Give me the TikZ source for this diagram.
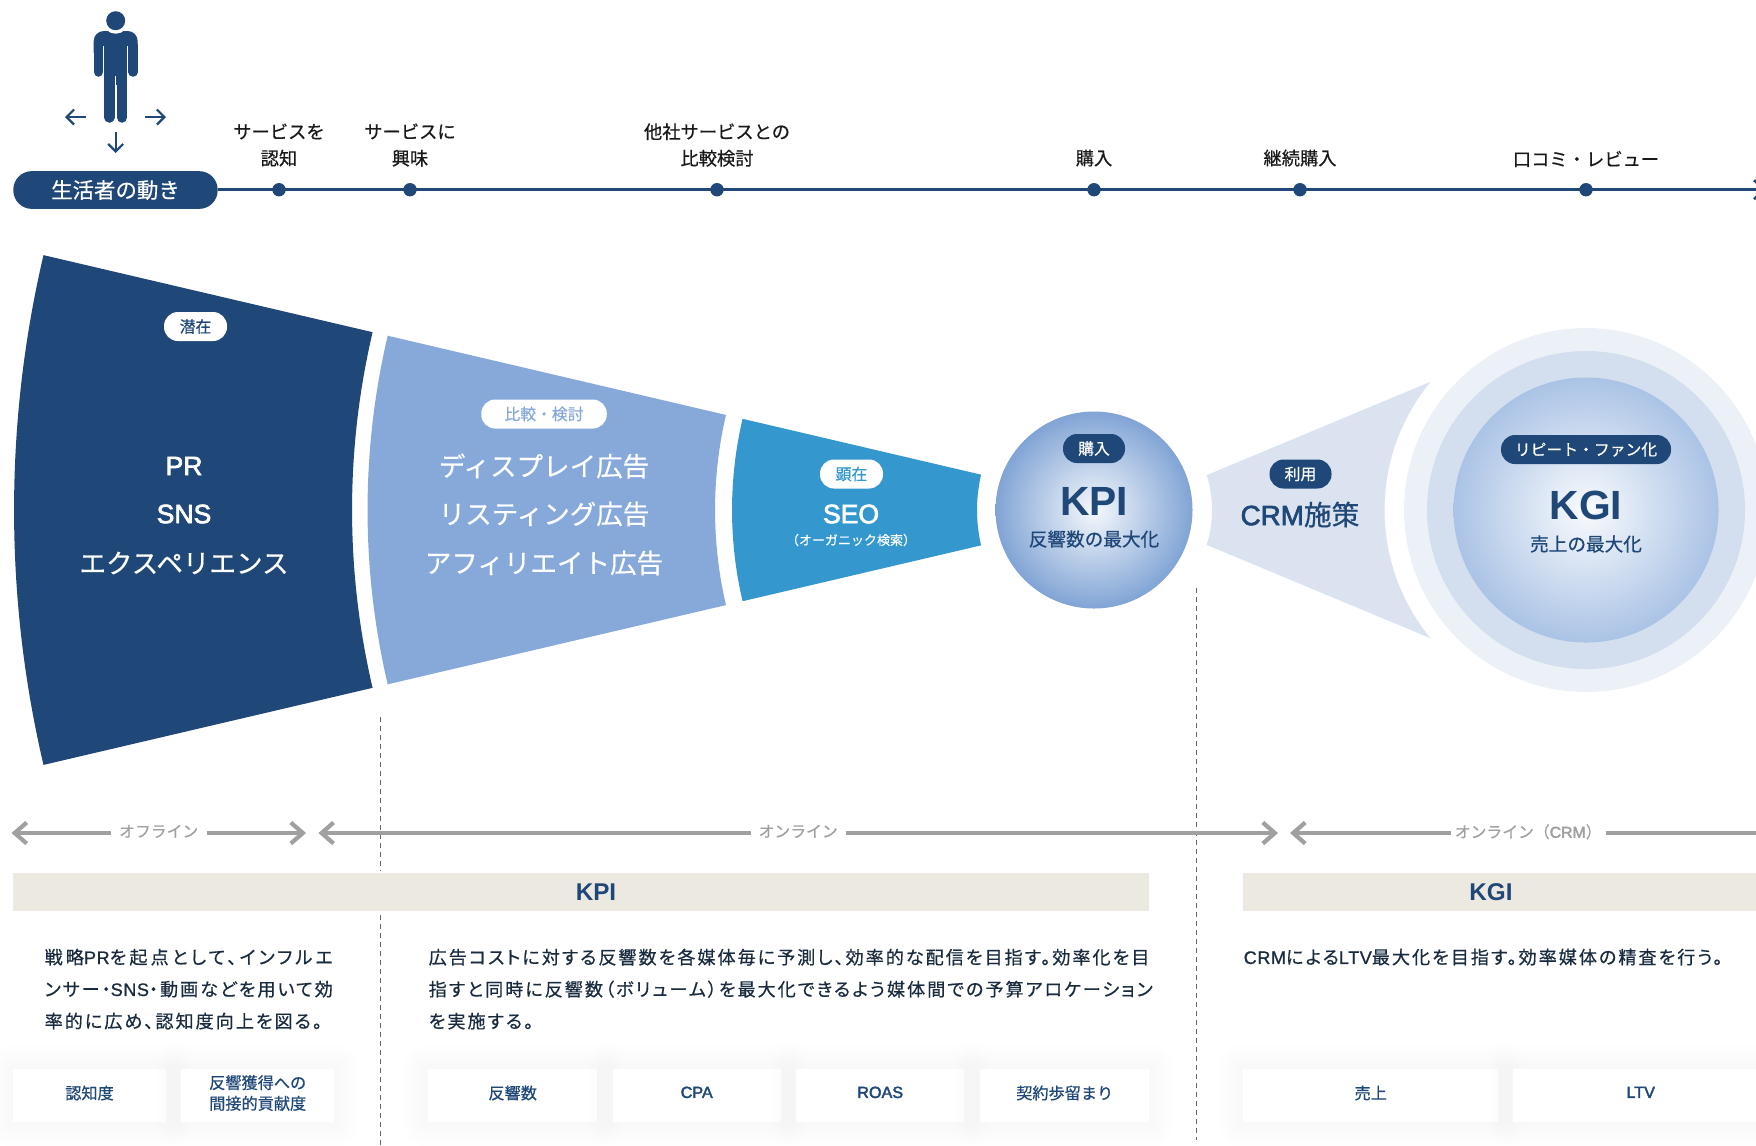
\documentclass[tikz,border=0pt]{standalone}
\usepackage{fontspec}
\setmainfont{Noto Sans CJK JP}
\newfontfamily\medfont[FakeBold=.5]{Noto Sans CJK JP}
\newfontfamily\bodyfont[RawFeature={+palt},FakeBold=.5,LetterSpace=11]{Noto Sans CJK JP}
\newfontfamily\bodywide[RawFeature={+palt},FakeBold=.5,LetterSpace=17]{Noto Sans CJK JP}
\newfontfamily\latinfont[FakeBold=2.5]{Liberation Sans}
\newfontfamily\headfont{Liberation Sans}
\newfontfamily\bodylatin[FakeBold=.8,LetterSpace=3]{Liberation Sans}
\usetikzlibrary{arrows.meta}
\usetikzlibrary{positioning}

\definecolor{navy}{HTML}{1F4778}
\definecolor{midblue}{HTML}{86A9DA}
\definecolor{seablue}{HTML}{3498CF}
\definecolor{fanblue}{HTML}{DCE3F0}
\definecolor{ringout}{HTML}{ECF1F8}
\definecolor{ringmid}{HTML}{D3DFEE}
\definecolor{beige}{HTML}{ECE9E1}
\definecolor{rangegray}{HTML}{A0A0A0}
\definecolor{bodyink}{HTML}{1A2B3F}

\tikzset{
  stepdot/.style={circle, fill=navy, minimum size=.134cm, inner sep=0pt},
  steplabel/.style={align=center, inner sep=0pt, text=black!90, font=\medfont\fontsize{5.2}{7.55}\selectfont},
  tagpill/.style={rounded corners=.14cm, minimum height=.29cm, inner sep=0pt, font=\medfont\fontsize{4.5}{5}\selectfont},
  bigwhite/.style={inner sep=0pt, text=white, font=\medfont\fontsize{7.55}{8}\selectfont},
  goaltext/.style={inner sep=0pt, text=navy, font=\medfont\fontsize{5.3}{6}\selectfont},
  goalhead/.style={inner sep=0pt, text=navy, font=\headfont\bfseries\fontsize{11.6}{14}\selectfont},
  rangeline/.style={rangegray, line width=.042cm, {Straight Barb[length=.12cm,width=.21cm]}-{Straight Barb[length=.12cm,width=.21cm]}},
  rangetext/.style={fill=white, inner sep=0pt, minimum height=.2cm, text depth=.04cm, text=rangegray, font=\medfont\fontsize{4.5}{5}\selectfont},
  walkarrow/.style={navy, line width=.022cm, -{Straight Barb[length=.075cm,width=.15cm]}},
  guide/.style={black!60, line width=.01cm, dash pattern=on .045cm off .045cm},
  barlabel/.style={inner sep=0pt, text=navy, font=\headfont\bfseries\fontsize{6.9}{8}\selectfont},
  bodytext/.style={anchor=north west, align=left, inner sep=0pt, text=bodyink, font=\bodyfont\fontsize{5.15}{9.1}\selectfont},
  softshadow/.style={
    preaction={draw=black, draw opacity=.004, line width=.50cm, line join=round},
    preaction={draw=black, draw opacity=.004, line width=.42cm, line join=round},
    preaction={draw=black, draw opacity=.004, line width=.34cm, line join=round},
    preaction={draw=black, draw opacity=.004, line width=.26cm, line join=round},
    preaction={draw=black, draw opacity=.004, line width=.18cm, line join=round},
    preaction={draw=black, draw opacity=.004, line width=.10cm, line join=round}},
  kpibox/.style={softshadow, fill=white, anchor=north west, minimum height=.537cm, text depth=.065cm, inner sep=0pt, align=center, text=navy, font=\medfont\fontsize{4.6}{5.9}\selectfont},
}

\begin{document}
\begin{tikzpicture}
  \useasboundingbox (0,0) rectangle (17.56,-11.45);

  % ---------- Person ----------

  \fill[navy, rounded corners=.1cm] (.937,-.62) -- (.937,-.31) -- (1.377,-.31) -- (1.377,-.62) -- cycle;
  \draw[navy, line width=.095cm, line cap=round] (.985,-.45) -- (.985,-.72);
  \draw[navy, line width=.095cm, line cap=round] (1.33,-.45) -- (1.33,-.72);
  \fill[navy] (1.04,-.31) rectangle (1.273,-.85);
  \draw[navy, line width=.105cm, line cap=round] (1.093,-.76) -- (1.093,-1.175);
  \draw[navy, line width=.105cm, line cap=round] (1.22,-.76) -- (1.22,-1.175);
  \draw[white, line width=.012cm] (1.157,-.76) -- (1.157,-1.24);
  \draw[white, line width=.012cm] (1.036,-.46) -- (1.036,-.85);
  \draw[white, line width=.012cm] (1.278,-.46) -- (1.278,-.85);
  \fill[white] (1.157,-.207) circle (.13);
  \fill[navy] (1.157,-.207) circle (.095);

  \coordinate (leftfrom) at (.86,-1.17);
  \coordinate (leftto) at (.65,-1.17);
  \coordinate (rightfrom) at (1.453,-1.17);
  \coordinate (rightto) at (1.66,-1.17);
  \coordinate (downfrom) at (1.157,-1.323);
  \coordinate (downto) at (1.157,-1.53);
  \draw[walkarrow] (leftfrom) -- (leftto);
  \draw[walkarrow] (rightfrom) -- (rightto);
  \draw[walkarrow] (downfrom) -- (downto);

  % ---------- Timeline ----------

  \node[fill=navy, rounded corners=.185cm, minimum width=2.044cm, minimum height=.377cm, inner sep=0pt,
        text=white, font=\medfont\fontsize{6.1}{7}\selectfont] at (1.155,-1.9) (moves) {生活者の動き};
  \coordinate (lineend) at (17.66,-1.897);
  \draw[navy, line width=.027cm, -{Straight Barb[length=.1cm,width=.19cm]}] (moves.east |- lineend) -- (lineend);

  \node[stepdot] at (2.79,-1.897) (aware) {};
  \node[stepdot] at (4.10,-1.897) (interest) {};
  \node[stepdot] at (7.17,-1.897) (compare) {};
  \node[stepdot] at (10.94,-1.897) (buy) {};
  \node[stepdot] at (13.00,-1.897) (repeat) {};
  \node[stepdot] at (15.86,-1.897) (review) {};

  \node[steplabel] at (2.79,-1.45) (awareL) {サービスを\\認知};
  \node[steplabel] at (4.10,-1.45) (interestL) {サービスに\\興味};
  \node[steplabel] at (7.17,-1.45) (compareL) {他社サービスとの\\比較検討};
  \node[steplabel] at (10.94,-1.58) (buyL) {購入};
  \node[steplabel] at (13.00,-1.58) (repeatL) {継続購入};
  \node[steplabel] at (15.86,-1.59) (reviewL) {口コミ・レビュー};

  % ---------- Funnel ----------

  \coordinate (apex) at (11.32,-5.10);
  \fill[navy] ([shift={(166.82:11.18)}]apex) arc[start angle=166.82, end angle=193.18, radius=11.18]
    -- ([shift={(193.18:7.80)}]apex) arc[start angle=193.18, end angle=166.82, radius=7.80] -- cycle;
  \fill[midblue] ([shift={(166.82:7.645)}]apex) arc[start angle=166.82, end angle=193.18, radius=7.645]
    -- ([shift={(193.18:4.17)}]apex) arc[start angle=193.18, end angle=166.82, radius=4.17] -- cycle;
  \fill[seablue] ([shift={(166.82:4.00)}]apex) arc[start angle=166.82, end angle=193.18, radius=4.00]
    -- ([shift={(193.18:1.55)}]apex) arc[start angle=193.18, end angle=166.82, radius=1.55] -- cycle;

  \node[tagpill, fill=white, text=navy, minimum width=.63cm] at (1.955,-3.265) (latent) {潜在};
  \node[bigwhite] at (1.84,-4.66) (pr) {\latinfont PR};
  \node[bigwhite] at (1.84,-5.14) (sns) {\latinfont SNS};
  \node[bigwhite] at (1.84,-5.63) (expe) {エクスペリエンス};

  \node[tagpill, fill=white, text=midblue, minimum width=1.255cm] at (5.44,-4.14) (consider) {比較・検討};
  \node[bigwhite] at (5.44,-4.66) (display) {ディスプレイ広告};
  \node[bigwhite] at (5.44,-5.14) (listing) {リスティング広告};
  \node[bigwhite] at (5.44,-5.63) (affiliate) {アフィリエイト広告};

  \node[tagpill, fill=white, text=seablue, minimum width=.63cm] at (8.515,-4.74) (overt) {顕在};
  \node[bigwhite] at (8.51,-5.14) (seo) {\latinfont SEO};
  \node[inner sep=0pt, text=white, font=\medfont\fontsize{3.7}{5}\selectfont] at (8.51,-5.40) (organic) {（オーガニック検索）};

  % ---------- KPI circle ----------

  \shade[inner color=white!92!midblue, outer color=midblue!95!navy] (10.94,-5.10) circle (.985);
  \node[tagpill, fill=navy, text=white, minimum width=.62cm] at (10.94,-4.485) (buytag) {購入};
  \node[goalhead] at (10.94,-5.01) (kpi) {KPI};
  \node[goaltext] at (10.94,-5.39) (kpisub) {反響数の最大化};

  % ---------- CRM fan ----------

  \coordinate (kpic) at (10.94,-5.10);
  \coordinate (kgic) at (15.86,-5.10);
  \fill[fanblue] ([shift={(17.2:1.18)}]kpic) -- ([shift={(140.45:2.015)}]kgic)
    arc[start angle=140.45, end angle=219.55, radius=2.015]
    -- ([shift={(-17.2:1.18)}]kpic) arc[start angle=-17.2, end angle=17.2, radius=1.18] -- cycle;
  \node[tagpill, fill=navy, text=white, minimum width=.62cm] at (13.005,-4.74) (usetag) {利用};
  \node[inner sep=0pt, text=navy, font=\medfont\fontsize{7.9}{9}\selectfont] at (13.0,-5.145) (crm) {{\latinfont CRM}施策};

  % ---------- KGI circle ----------

  \fill[ringout] (kgic) circle (1.82);
  \fill[ringmid] (kgic) circle (1.59);
  \shade[inner color=white!95!midblue, outer color=midblue!70!white] (kgic) circle (1.325);
  \node[tagpill, fill=navy, text=white, minimum width=1.70cm] at (15.86,-4.495) (fantag) {リピート・ファン化};
  \node[goalhead] at (15.86,-5.05) (kgi) {KGI};
  \node[goaltext] at (15.86,-5.44) (kgisub) {売上の最大化};

  % ---------- Guides ----------

  \coordinate (guideA) at (3.80,-7.17);
  \coordinate (guideAend) at (3.80,-11.45);
  \coordinate (guideB) at (11.96,-5.88);
  \coordinate (guideBend) at (11.96,-11.40);
  \draw[guide] (guideA) -- (guideAend);
  \draw[guide] (guideB) -- (guideBend);

  % ---------- Ranges ----------

  \coordinate (offA) at (.115,-8.33);
  \coordinate (offB) at (3.06,-8.33);
  \coordinate (onA) at (3.184,-8.33);
  \coordinate (onB) at (12.78,-8.33);
  \coordinate (crmA) at (12.90,-8.33);
  \coordinate (crmB) at (18.00,-8.33);
  \draw[rangeline] (offA) -- node[rangetext, minimum width=.96cm] (offT) {オフライン} (offB);
  \draw[rangeline] (onA) -- node[rangetext, minimum width=.95cm] (onT) {オンライン} (onB);
  \draw[rangeline] (crmA) -- node[rangetext, pos=.467, minimum width=1.55cm] (crmT) {オンライン（{\latinfont CRM}）} (crmB);

  % ---------- Bars ----------

  \fill[white] (3.75,-8.71) rectangle (3.85,-9.14);
  \fill[beige] (.13,-8.73) rectangle (11.49,-9.11);
  \fill[beige] (12.43,-8.73) rectangle (17.56,-9.11);
  \node[barlabel] at (5.96,-8.92) (kpibar) {KPI};
  \node[barlabel] at (14.91,-8.92) (kgibar) {KGI};

  % ---------- Texts ----------

  \node[bodytext] at (.44,-9.48) (bodyA) {{\bodywide 戦略{\bodylatin PR}を起点として、インフルエ}\\ンサー・{\bodylatin SNS}・動画などを用いて効\\率的に広め、認知度向上を図る。};
  \node[bodytext] at (4.28,-9.48) (bodyB) {広告コストに対する反響数を各媒体毎に予測し、効率的な配信を目指す。効率化を目\\指すと同時に反響数（ボリューム）を最大化できるよう媒体間での予算アロケーション\\を実施する。};
  \node[bodytext] at (12.43,-9.48) (bodyC) {{\bodylatin CRM}による{\bodylatin LTV}最大化を目指す。効率媒体の精査を行う。};

  % ---------- Boxes ----------

  \node[kpibox, minimum width=1.527cm] at (.125,-10.68) (boxA) {認知度};
  \node[kpibox, minimum width=1.53cm] at (1.805,-10.68) (boxB) {反響獲得への\\間接的貢献度};
  \node[kpibox, minimum width=1.69cm] at (4.275,-10.68) (boxC) {反響数};
  \node[kpibox, minimum width=1.68cm] at (6.12,-10.68) (boxD) {\latinfont CPA};
  \node[kpibox, minimum width=1.68cm] at (7.955,-10.68) (boxE) {\latinfont ROAS};
  \node[kpibox, minimum width=1.69cm] at (9.795,-10.68) (boxF) {契約歩留まり};
  \node[kpibox, minimum width=2.55cm] at (12.425,-10.68) (boxG) {売上};
  \node[kpibox, minimum width=2.55cm] at (15.125,-10.68) (boxH) {\latinfont LTV};
\end{tikzpicture}
\end{document}
